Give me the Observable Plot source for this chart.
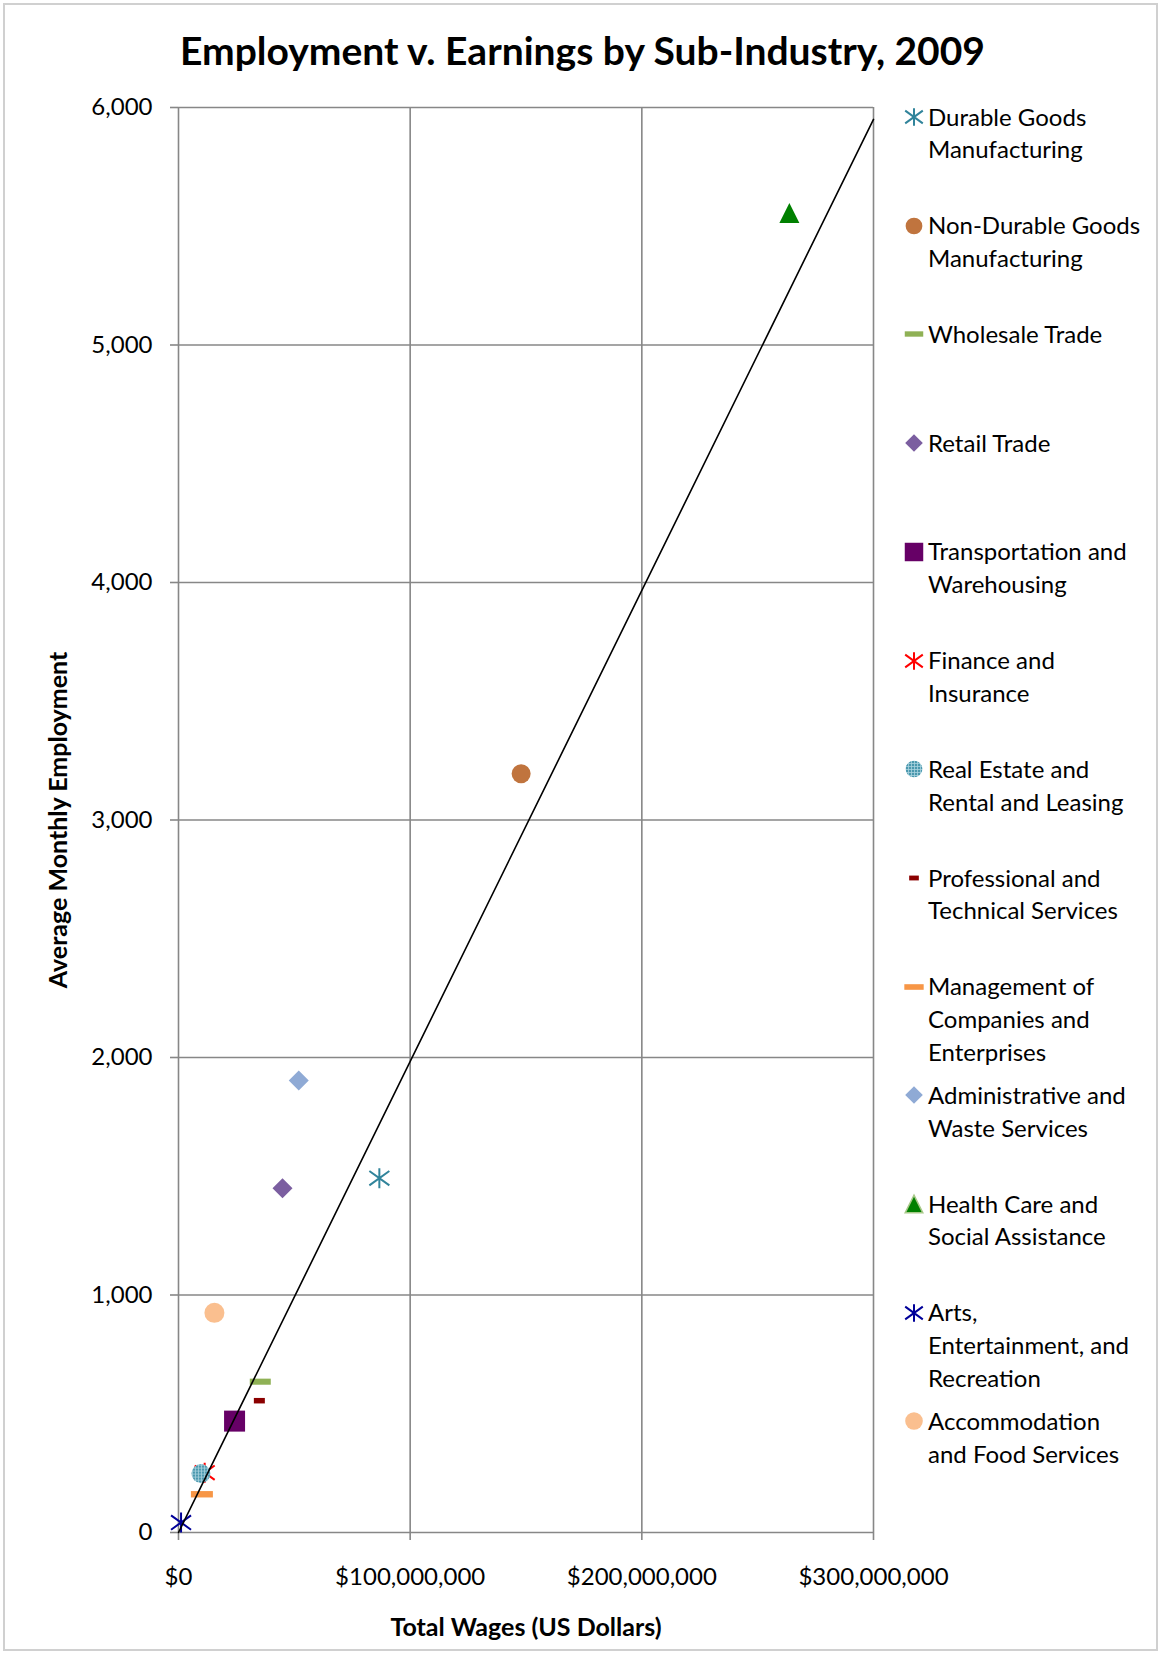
<!DOCTYPE html>
<html>
<head>
<meta charset="utf-8">
<script src="https://cdn.jsdelivr.net/npm/d3@7"></script>
<script src="https://cdn.jsdelivr.net/npm/@observablehq/plot@0.6"></script>
<style>
  body { margin: 0; background: #fff; }
  #chart { position: relative; width: 1161px; height: 1654px; overflow: hidden; background: #fff; font-family: Lato, "Open Sans", sans-serif; color: #000; }
  #border { position: absolute; left: 3px; top: 3px; width: 1155px; height: 1648px; border: 2px solid #d0d0d0; box-sizing: border-box; pointer-events: none; }
  #title { position: absolute; left: 0; top: 28px; width: 1165px; text-align: center; font-size: 39px; font-weight: 700; line-height: 44px; white-space: nowrap; }
  #plot { position: absolute; left: 0; top: 80px; }
  .entry { position: absolute; left: 928px; font-size: 24px; line-height: 32.7px; white-space: nowrap; }
  .swatch { position: absolute; left: 901px; width: 26px; height: 26px; }
</style>
</head>
<body>
<svg width="0" height="0" style="position:absolute">
  <defs>
    <pattern id="reGrid" width="3" height="3" patternUnits="userSpaceOnUse">
      <rect width="3" height="3" fill="#4a98ae"></rect>
      <path d="M0 0.5H3M0.5 0V3" stroke="#a8d2de" stroke-width="0.8"></path>
    </pattern>
  </defs>
</svg>
<div id="chart">
  <div id="title">Employment v. Earnings by Sub-Industry, 2009</div>
</div>
<script>
// Sub-industries and their 2009 totals
const industries = [
  "Durable Goods Manufacturing",
  "Non-Durable Goods Manufacturing",
  "Wholesale Trade",
  "Retail Trade",
  "Transportation and Warehousing",
  "Finance and Insurance",
  "Real Estate and Rental and Leasing",
  "Professional and Technical Services",
  "Management of Companies and Enterprises",
  "Administrative and Waste Services",
  "Health Care and Social Assistance",
  "Arts, Entertainment, and Recreation",
  "Accommodation and Food Services"
];
const totalWages = [86.7e6, 147.9e6, 35.3e6, 44.9e6, 24.2e6, 11.3e6, 9.7e6, 34.9e6, 10.1e6, 51.9e6, 263.7e6, 1.1e6, 15.5e6];
const avgEmployment = [1492, 3195, 635, 1450, 469, 252, 248, 555, 161, 1903, 5556, 42, 925];

// Linear trendline endpoints (wages → employment)
const trendWages = [0, 300e6];
const trendEmployment = [0, 5950];

// Axis ticks
const xTicks = [0, 100e6, 200e6, 300e6];
const yTicks = [0, 1000, 2000, 3000, 4000, 5000, 6000];

// Legend text, broken into lines
const legendLines = [
  ["Durable Goods", "Manufacturing"],
  ["Non-Durable Goods", "Manufacturing"],
  ["Wholesale Trade"],
  ["Retail Trade"],
  ["Transportation and", "Warehousing"],
  ["Finance and", "Insurance"],
  ["Real Estate and", "Rental and Leasing"],
  ["Professional and", "Technical Services"],
  ["Management of", "Companies and", "Enterprises"],
  ["Administrative and", "Waste Services"],
  ["Health Care and", "Social Assistance"],
  ["Arts,", "Entertainment, and", "Recreation"],
  ["Accommodation", "and Food Services"]
];

// Marker shapes (size is the symbol area, r = sqrt(size / π))
const rOf = size => Math.sqrt(size / Math.PI);
const shapes = {
  star: {draw(c, s) { const r = rOf(s), k = 0.72 * r;
    c.moveTo(0, -r); c.lineTo(0, r);
    c.moveTo(-r, -k); c.lineTo(r, k);
    c.moveTo(-r, k); c.lineTo(r, -k); }},
  circle: {draw(c, s) { const r = rOf(s); c.moveTo(r, 0); c.arc(0, 0, r, 0, 2 * Math.PI); c.closePath(); }},
  square: {draw(c, s) { const r = rOf(s); c.rect(-r, -r, 2 * r, 2 * r); }},
  diamond: {draw(c, s) { const r = rOf(s); c.moveTo(0, -r); c.lineTo(r, 0); c.lineTo(0, r); c.lineTo(-r, 0); c.closePath(); }},
  triangle: {draw(c, s) { const r = rOf(s); c.moveTo(0, -r); c.lineTo(r, r); c.lineTo(-r, r); c.closePath(); }},
  dash: {draw(c, s) { const r = rOf(s), h = 0.29 * r; c.rect(-r, -h, 2 * r, 2 * h); }},
  shortDash: {draw(c, s) { const r = rOf(s), h = 0.5 * r; c.rect(-r, -h, 2 * r, 2 * h); }}
};

const markerStyles = [
  {shape: "star", r: 10, fill: "none", stroke: "#31849b", sw: 2},
  {shape: "circle", r: 9.5, fill: "#c0743e", stroke: "none", sw: 0},
  {shape: "dash", r: 10.5, fill: "#8fb155", stroke: "none", sw: 0},
  {shape: "diamond", r: 10, fill: "#7b5ea0", stroke: "none", sw: 0},
  {shape: "square", r: 10.5, fill: "#660066", stroke: "none", sw: 0},
  {shape: "star", r: 10, fill: "none", stroke: "#ff0000", sw: 2},
  {shape: "circle", r: 9.5, fill: "url(#reGrid)", stroke: "none", sw: 0},
  {shape: "shortDash", r: 5.5, fill: "#8b0000", stroke: "none", sw: 0},
  {shape: "dash", r: 11, fill: "#f79646", stroke: "none", sw: 0},
  {shape: "diamond", r: 10, fill: "#8faad5", stroke: "none", sw: 0},
  {shape: "triangle", r: 10, fill: "#008000", stroke: "none", sw: 0},
  {shape: "star", r: 10, fill: "none", stroke: "#000099", sw: 2},
  {shape: "circle", r: 10, fill: "#fabf8f", stroke: "none", sw: 0}
];

const rows = industries.map((name, i) => ({name, wages: totalWages[i], employment: avgEmployment[i]}));
const trend = trendWages.map((w, i) => ({wages: w, employment: trendEmployment[i]}));

const gridStyle = {stroke: "#878787", strokeOpacity: 1, strokeWidth: 1.6};

const plot = Plot.plot({
  width: 980,
  height: 1570,
  marginLeft: 178,
  marginRight: 107,
  marginTop: 27,
  marginBottom: 118,
  style: {fontFamily: "Lato, 'Open Sans', sans-serif", color: "#000", background: "transparent"},
  x: {domain: [0, 300e6]},
  y: {domain: [0, 6000]},
  marks: [
    Plot.gridX(xTicks, gridStyle),
    Plot.gridY(yTicks, gridStyle),
    Plot.axisX(xTicks, {
      tickSize: 8, tickPadding: 27, fontSize: 24, label: null,
      stroke: "#878787", strokeWidth: 1.6,
      tickFormat: d => "$" + d3.format(",")(d)
    }),
    Plot.axisY(yTicks, {
      tickSize: 8, tickPadding: 18, fontSize: 24, label: null,
      stroke: "#878787", strokeWidth: 1.6,
      tickFormat: d3.format(",")
    }),
    ...rows.map((row, i) => {
      const m = markerStyles[i];
      return Plot.dot([row], {
        x: "wages", y: "employment",
        symbol: shapes[m.shape], r: m.r,
        fill: m.fill, stroke: m.stroke, strokeWidth: m.sw,
        title: "name"
      });
    }),
    Plot.line(trend, {x: "wages", y: "employment", stroke: "#000", strokeWidth: 1.6}),
    Plot.text(["Average Monthly Employment"], {
      frameAnchor: "left", rotate: -90, dx: -120,
      textAnchor: "middle", lineAnchor: "middle",
      fontSize: 25, fontWeight: "bold", fill: "#000"
    }),
    Plot.text(["Total Wages (US Dollars)"], {
      frameAnchor: "bottom", dy: 95,
      textAnchor: "middle", lineAnchor: "middle",
      fontSize: 25, fontWeight: "bold", fill: "#000"
    })
  ]
});
plot.id = "plot";

const chart = document.getElementById("chart");
chart.appendChild(plot);

// Legend on the right: one slot per sub-industry
const firstLine = 117, slot = 108.7, lineH = 32.7;
industries.forEach((name, i) => {
  const m = markerStyles[i];
  const cy = firstLine + i * slot;
  const sw = d3.create("svg")
    .attr("class", "swatch")
    .attr("width", 26).attr("height", 26)
    .style("top", (cy - 13) + "px");
  sw.append("path")
    .attr("transform", "translate(13,13)")
    .attr("d", d3.symbol(shapes[m.shape], Math.PI * (m.r * 0.88) ** 2)())
    .attr("fill", m.fill)
    .attr("stroke", m.shape === "triangle" ? "#a9c98a" : m.stroke)
    .attr("stroke-width", m.shape === "triangle" ? 1.5 : m.sw);
  chart.appendChild(sw.node());
  const entry = document.createElement("div");
  entry.className = "entry";
  entry.style.top = (cy - lineH / 2) + "px";
  entry.innerHTML = legendLines[i].map(s => s.replace(/&/g, "&amp;")).join("<br>");
  chart.appendChild(entry);
});

const border = document.createElement("div");
border.id = "border";
chart.appendChild(border);
</script>
</body>
</html>
